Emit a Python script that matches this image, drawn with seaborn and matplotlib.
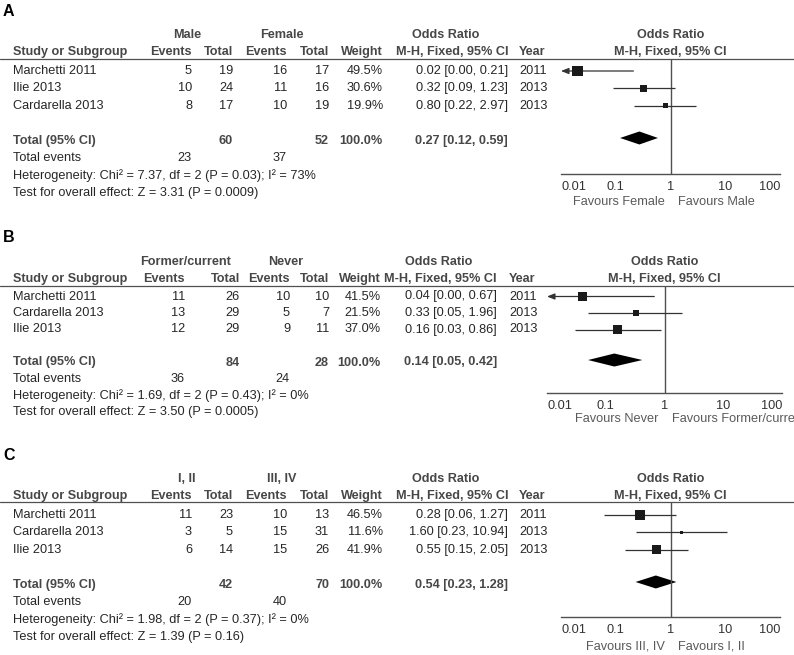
import numpy as np
import pandas as pd
import matplotlib
matplotlib.use("Agg")
import matplotlib.pyplot as plt
import seaborn as sns

sns.set_style("white")
plt.rcParams['font.family'] = ['Liberation Sans', 'DejaVu Sans']

# ---------------- data ----------------
# A: sex
groups_a = ["Male", "Female"]
studies_a = ["Marchetti 2011", "Ilie 2013", "Cardarella 2013"]
ev1_a = [5, 10, 8]
tot1_a = [19, 24, 17]
ev2_a = [16, 11, 10]
tot2_a = [17, 16, 19]
weight_a = [49.5, 30.6, 19.9]
or_a = [0.02, 0.32, 0.80]
lo_a = [0.00, 0.09, 0.22]
hi_a = [0.21, 1.23, 2.97]
year_a = [2011, 2013, 2013]
total_a = [60, 52]
pooled_a = [0.27, 0.12, 0.59]
events_a = [23, 37]
het_a = "Heterogeneity: Chi\u00b2 = 7.37, df = 2 (P = 0.03); I\u00b2 = 73%"
zed_a = "Test for overall effect: Z = 3.31 (P = 0.0009)"
favours_a = ["Favours Female", "Favours Male"]

# B: smoking
groups_b = ["Former/current", "Never"]
studies_b = ["Marchetti 2011", "Cardarella 2013", "Ilie 2013"]
ev1_b = [11, 13, 12]
tot1_b = [26, 29, 29]
ev2_b = [10, 5, 9]
tot2_b = [10, 7, 11]
weight_b = [41.5, 21.5, 37.0]
or_b = [0.04, 0.33, 0.16]
lo_b = [0.00, 0.05, 0.03]
hi_b = [0.67, 1.96, 0.86]
year_b = [2011, 2013, 2013]
total_b = [84, 28]
pooled_b = [0.14, 0.05, 0.42]
events_b = [36, 24]
het_b = "Heterogeneity: Chi\u00b2 = 1.69, df = 2 (P = 0.43); I\u00b2 = 0%"
zed_b = "Test for overall effect: Z = 3.50 (P = 0.0005)"
favours_b = ["Favours Never", "Favours Former/current"]

# C: stage
groups_c = ["I, II", "III, IV"]
studies_c = ["Marchetti 2011", "Cardarella 2013", "Ilie 2013"]
ev1_c = [11, 3, 6]
tot1_c = [23, 5, 14]
ev2_c = [10, 15, 15]
tot2_c = [13, 31, 26]
weight_c = [46.5, 11.6, 41.9]
or_c = [0.28, 1.60, 0.55]
lo_c = [0.06, 0.23, 0.15]
hi_c = [1.27, 10.94, 2.05]
year_c = [2011, 2013, 2013]
total_c = [42, 70]
pooled_c = [0.54, 0.23, 1.28]
events_c = [20, 40]
het_c = "Heterogeneity: Chi\u00b2 = 1.98, df = 2 (P = 0.37); I\u00b2 = 0%"
zed_c = "Test for overall effect: Z = 1.39 (P = 0.16)"
favours_c = ["Favours III, IV", "Favours I, II"]

ticks = [0.01, 0.1, 1, 10, 100]
tick_labels = ["0.01", "0.1", "1", "10", "100"]

# ---------------- layout (pixels) ----------------
W, H = 794, 655
FS = 9.2
FSB = 9.1
TXT = '#262626'
HDR = '#474747'
LINE = '#505050'

lay_a = dict(label=12, hdr1=35, hdr2=52, line=58.5, row0=71, step=17.4, axis=173.5, fav=202, fx=(561, 780))
lay_b = dict(label=237, hdr1=262, hdr2=279, line=285.5, row0=296.5, step=16.5, axis=393, fav=419, fx=(547, 782))
lay_c = dict(label=455, hdr1=479, hdr2=496, line=502, row0=515, step=17.4, axis=617, fav=646.5, fx=(561, 780))

col_ac = dict(ev1=192, tot1=233, ev2=287, tot2=329, w=383, orr=508, year=519, g1=187, g2=282, orh=446)
col_b = dict(ev1=185, tot1=240, ev2=290, tot2=329, w=381, orr=497, year=509, g1=186, g2=286, orh=439)

fig = plt.figure(figsize=(W / 100, H / 100), dpi=100)
tab = fig.add_axes([0, 0, 1, 1])
tab.set_xlim(0, W)
tab.set_ylim(H, 0)
tab.axis('off')


def txt(x, y, s, ha='left', bold=False, size=None, color=None):
    tab.text(x, y, s, ha=ha, va='center', fontsize=size or (FSB if bold else FS),
             fontweight='bold' if bold else 'normal',
             color=color or (HDR if bold else TXT))


def ci_text(o, l, h):
    return f"{o:.2f} [{l:.2f}, {h:.2f}]"


def draw_panel(letter, lay, col, groups, studies, ev1, tot1, ev2, tot2, weight,
               orr, lo, hi, year, total, pooled, events, het, zed, favours):
    r0, st = lay['row0'], lay['step']
    ypix = lambda i: r0 + st * i

    # panel letter and headers
    txt(3, lay['label'], letter, bold=True, size=11.5, color='black')
    txt(col['g1'], lay['hdr1'], groups[0], ha='center', bold=True)
    txt(col['g2'], lay['hdr1'], groups[1], ha='center', bold=True)
    txt(col['orh'], lay['hdr1'], "Odds Ratio", ha='center', bold=True)
    txt(13, lay['hdr2'], "Study or Subgroup", bold=True)
    txt(col['ev1'], lay['hdr2'], "Events", ha='right', bold=True)
    txt(col['tot1'], lay['hdr2'], "Total", ha='right', bold=True)
    txt(col['ev2'], lay['hdr2'], "Events", ha='right', bold=True)
    txt(col['tot2'], lay['hdr2'], "Total", ha='right', bold=True)
    txt(col['w'], lay['hdr2'], "Weight", ha='right', bold=True)
    txt(col['orr'], lay['hdr2'], "M-H, Fixed, 95% CI", ha='right', bold=True)
    txt(col['year'], lay['hdr2'], "Year", bold=True)
    fx0, fx1 = lay['fx']
    fmid = (fx0 + fx1) / 2
    txt(fmid, lay['hdr1'], "Odds Ratio", ha='center', bold=True)
    txt(fmid, lay['hdr2'], "M-H, Fixed, 95% CI", ha='center', bold=True)
    tab.plot([0, W], [lay['line'], lay['line']], color=LINE, lw=0.9)

    # study rows
    for i in range(len(studies)):
        y = ypix(i)
        txt(13, y, studies[i])
        txt(col['ev1'], y, str(ev1[i]), ha='right')
        txt(col['tot1'], y, str(tot1[i]), ha='right')
        txt(col['ev2'], y, str(ev2[i]), ha='right')
        txt(col['tot2'], y, str(tot2[i]), ha='right')
        txt(col['w'], y, f"{weight[i]:.1f}%", ha='right')
        txt(col['orr'], y, ci_text(orr[i], lo[i], hi[i]), ha='right')
        txt(col['year'], y, str(year[i]))

    # totals
    y = ypix(4)
    txt(13, y, "Total (95% CI)", bold=True)
    txt(col['tot1'], y, str(total[0]), ha='right', bold=True)
    txt(col['tot2'], y, str(total[1]), ha='right', bold=True)
    txt(col['w'], y, f"{sum(weight):.1f}%", ha='right', bold=True)
    txt(col['orr'], y, ci_text(*pooled), ha='right', bold=True)
    y = ypix(5)
    txt(13, y, "Total events")
    txt(col['ev1'], y, str(events[0]), ha='right')
    txt(col['ev2'], y, str(events[1]), ha='right')
    txt(13, ypix(6), het)
    txt(13, ypix(7), zed)

    # forest plot
    top, bot = lay['line'], lay['axis']
    fax = fig.add_axes([fx0 / W, 1 - bot / H, (fx1 - fx0) / W, (bot - top) / H])
    fax.patch.set_alpha(0)
    fax.set_xscale('log')
    fax.set_xlim(0.01, 100)
    fax.set_ylim((bot - r0) / st, (top - r0) / st)
    for s in ['top', 'left', 'right']:
        fax.spines[s].set_visible(False)
    fax.spines['bottom'].set_color(LINE)
    fax.spines['bottom'].set_linewidth(1)
    fax.set_xticks(ticks)
    fax.set_xticklabels(tick_labels)
    fax.minorticks_off()
    fax.set_yticks([])
    fax.tick_params(axis='x', direction='inout', length=5.5, width=1, color=LINE,
                    labelsize=FS, labelcolor='#333333', pad=2.5)
    labs = fax.get_xticklabels()
    labs[0].set_ha('left')
    labs[-1].set_ha('right')
    fax.axvline(1, color=LINE, lw=1)

    rows = list(range(len(studies)))
    for i in rows:
        if lo[i] < 0.01:
            fax.annotate("", xy=(0.01, i), xytext=(hi[i], i),
                         arrowprops=dict(arrowstyle='-|>,head_length=0.45,head_width=0.18',
                                         color='#333333', lw=0.9, shrinkA=0, shrinkB=0))
        else:
            fax.hlines(i, lo[i], hi[i], color='#333333', lw=0.9)
    side_pt = [0.57 * w ** 0.75 * 0.72 for w in weight]
    sns.scatterplot(x=orr, y=rows, marker='s', s=[v ** 2 for v in side_pt],
                    color='#1a1a1a', linewidth=0, ax=fax, legend=False, zorder=3)
    po, pl, ph = pooled
    hh = 6.5 / st
    fax.fill([pl, po, ph, po], [3.85, 3.85 - hh, 3.85, 3.85 + hh], color='black', lw=0)

    txt(fmid - 6, lay['fav'], favours[0], ha='right', color='#5a5a5a')
    txt(fmid + 7, lay['fav'], favours[1], color='#5a5a5a')


draw_panel("A", lay_a, col_ac, groups_a, studies_a, ev1_a, tot1_a, ev2_a, tot2_a, weight_a,
           or_a, lo_a, hi_a, year_a, total_a, pooled_a, events_a, het_a, zed_a, favours_a)
draw_panel("B", lay_b, col_b, groups_b, studies_b, ev1_b, tot1_b, ev2_b, tot2_b, weight_b,
           or_b, lo_b, hi_b, year_b, total_b, pooled_b, events_b, het_b, zed_b, favours_b)
draw_panel("C", lay_c, col_ac, groups_c, studies_c, ev1_c, tot1_c, ev2_c, tot2_c, weight_c,
           or_c, lo_c, hi_c, year_c, total_c, pooled_c, events_c, het_c, zed_c, favours_c)

fig.savefig("out.png", dpi=100)
